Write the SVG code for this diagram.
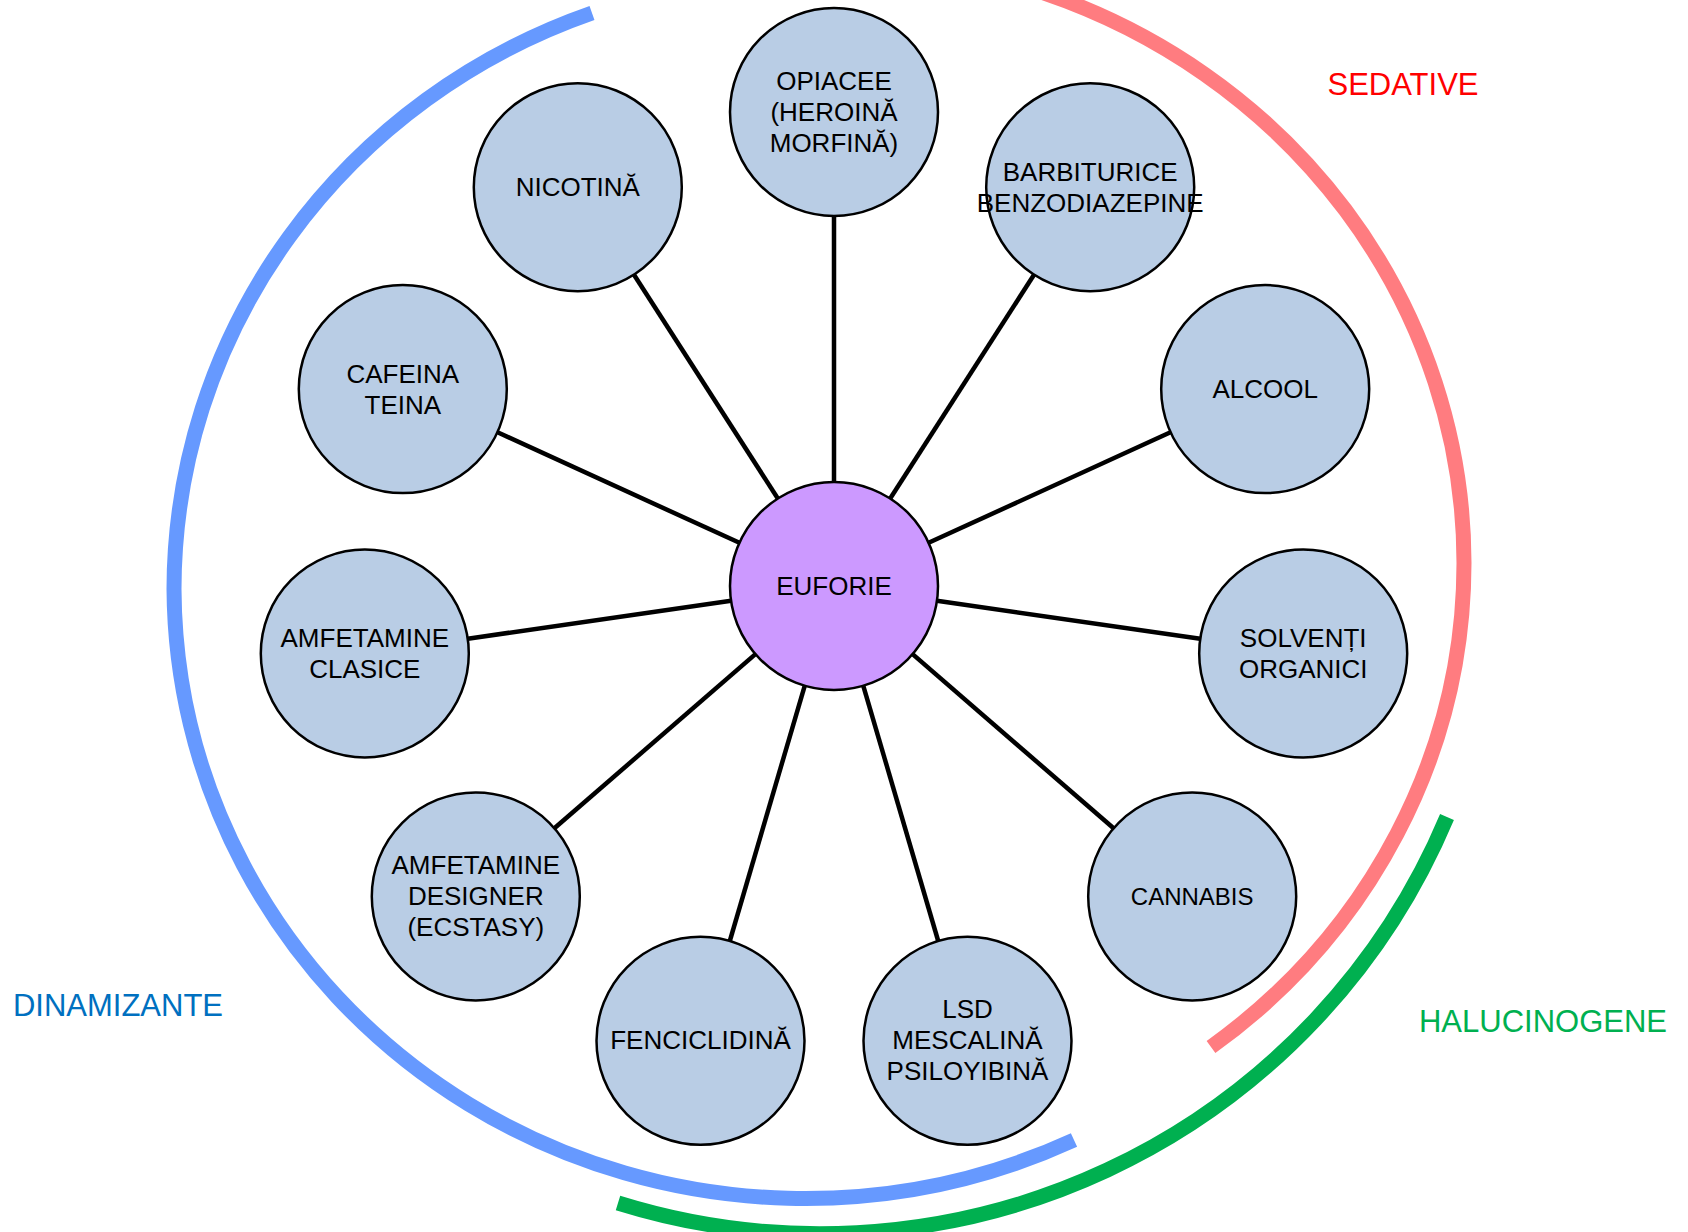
<svg xmlns="http://www.w3.org/2000/svg" width="1688" height="1232" viewBox="0 0 1688 1232">
<style>
.bg{fill:#ffffff}
.node{fill:#b9cde5;stroke:#000;stroke-width:2.5}
.hub{fill:#cc99ff;stroke:#000;stroke-width:2.5}
.t{font-family:"Liberation Sans",Arial,sans-serif;font-size:26px;fill:#000;text-anchor:middle}
.cat{font-family:"Liberation Sans",Arial,sans-serif;font-size:31px;text-anchor:middle}
.conn line{stroke:#000;stroke-width:4.5}
.arc{fill:none;stroke-width:15}
</style>
<rect class="bg" x="0" y="0" width="1688" height="1232"/>
<g id="arcs">
<path class="arc" stroke="#6699ff" d="M592,13 A631 613 0 0 0 174,589 A631 613 0 0 0 1074,1140"/>
<path class="arc" stroke="#ff7c80" d="M1035,-10 A631 605 0 0 1 1464,563 A631 605 0 0 1 1211,1047"/>
<path class="arc" stroke="#00b050" d="M1447,817 A680 680 0 0 1 618,1203"/>
</g>
<g id="connectors" class="conn">
<line x1="834" y1="482" x2="834" y2="216"/>
<line x1="777.8" y1="498.5" x2="634" y2="274.7"/>
<line x1="739.4" y1="542.8" x2="497.5" y2="432.3"/>
<line x1="731.1" y1="600.8" x2="467.8" y2="638.7"/>
<line x1="755.4" y1="654.1" x2="554.4" y2="828.3"/>
<line x1="804.7" y1="685.8" x2="729.8" y2="941"/>
<line x1="863.3" y1="685.8" x2="938.2" y2="941"/>
<line x1="912.6" y1="654.1" x2="1113.6" y2="828.3"/>
<line x1="936.9" y1="600.8" x2="1200.2" y2="638.7"/>
<line x1="928.6" y1="542.8" x2="1170.5" y2="432.3"/>
<line x1="890.2" y1="498.5" x2="1034" y2="274.7"/>
</g>
<g id="euforie"><circle class="hub" cx="834" cy="586" r="104"/><text class="t" x="834" y="595">EUFORIE</text></g>
<g id="opiacee"><circle class="node" cx="834" cy="112" r="104"/><text class="t" x="834" y="90">OPIACEE</text><text class="t" x="834" y="121">(HEROINĂ</text><text class="t" x="834" y="152">MORFINĂ)</text></g>
<g id="nicotina"><circle class="node" cx="577.8" cy="187.2" r="104"/><text class="t" x="577.8" y="196">NICOTINĂ</text></g>
<g id="cafeina"><circle class="node" cx="402.8" cy="389.1" r="104"/><text class="t" x="402.8" y="382.5">CAFEINA</text><text class="t" x="402.8" y="414">TEINA</text></g>
<g id="amfetamine-clasice"><circle class="node" cx="364.8" cy="653.5" r="104"/><text class="t" x="364.8" y="647">AMFETAMINE</text><text class="t" x="364.8" y="678">CLASICE</text></g>
<g id="amfetamine-designer"><circle class="node" cx="475.8" cy="896.4" r="104"/><text class="t" x="475.8" y="874">AMFETAMINE</text><text class="t" x="475.8" y="905">DESIGNER</text><text class="t" x="475.8" y="936">(ECSTASY)</text></g>
<g id="fenciclidina"><circle class="node" cx="700.5" cy="1040.8" r="104"/><text class="t" x="700.5" y="1049">FENCICLIDINĂ</text></g>
<g id="lsd"><circle class="node" cx="967.5" cy="1040.8" r="104"/><text class="t" x="967.5" y="1018">LSD</text><text class="t" x="967.5" y="1049">MESCALINĂ</text><text class="t" x="967.5" y="1080">PSILOYIBINĂ</text></g>
<g id="cannabis"><circle class="node" cx="1192.2" cy="896.4" r="104"/><text class="t" x="1192.2" y="904.5" style="font-size:24px">CANNABIS</text></g>
<g id="solventi"><circle class="node" cx="1303.2" cy="653.5" r="104"/><text class="t" x="1303.2" y="647">SOLVENȚI</text><text class="t" x="1303.2" y="678">ORGANICI</text></g>
<g id="alcool"><circle class="node" cx="1265.2" cy="389.1" r="104"/><text class="t" x="1265.2" y="398">ALCOOL</text></g>
<g id="barbiturice"><circle class="node" cx="1090.2" cy="187.2" r="104"/><text class="t" x="1090.2" y="181">BARBITURICE</text><text class="t" x="1090.2" y="212">BENZODIAZEPINE</text></g>
<g id="labels">
<text class="cat" x="1403" y="95" fill="#ff0000">SEDATIVE</text>
<text class="cat" x="118" y="1016" fill="#0070c0">DINAMIZANTE</text>
<text class="cat" x="1543" y="1032" fill="#00b050">HALUCINOGENE</text>
</g>
</svg>
